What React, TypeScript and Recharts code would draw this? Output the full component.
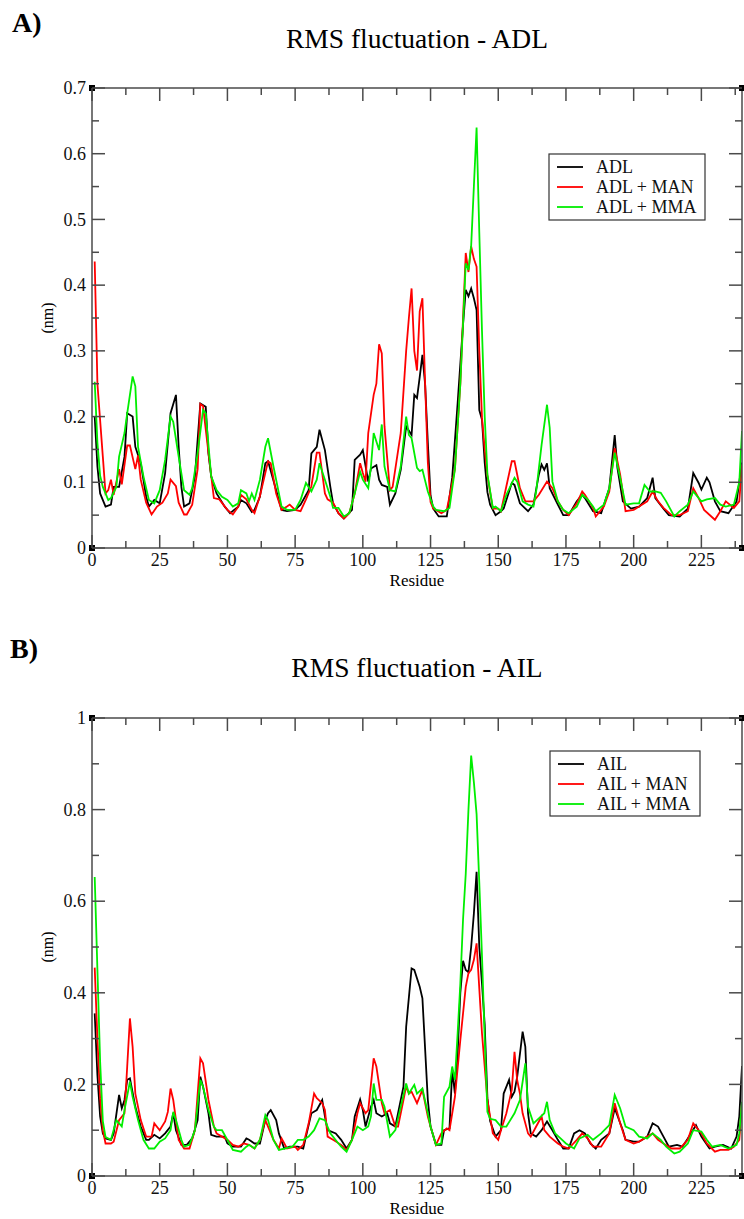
import React from 'react';
import { LineChart, Line, XAxis, YAxis, ReferenceDot } from 'recharts';

// ─── Data (residue, nm) ───────────────────────────────────────────────────────
const ADL: [number, number][] = [
  [1,0.2],[2,0.124],[3,0.083],[5,0.063],[7,0.066],[8,0.093],[10,0.093],[12,0.139],[13,0.205],[15,0.2],
  [16,0.154],[18,0.129],[20,0.078],[21,0.063],[23,0.073],[25,0.068],[27,0.114],[29,0.205],[31,0.233],[32,0.154],
  [33,0.093],[34,0.063],[36,0.068],[38,0.109],[40,0.22],[42,0.215],[43,0.144],[44,0.109],[46,0.083],[49,0.063],
  [51,0.053],[54,0.063],[55,0.073],[57,0.068],[59,0.055],[60,0.058],[62,0.078],[64,0.129],[65,0.132],[68,0.088],
  [70,0.058],[72,0.056],[75,0.058],[77,0.066],[80,0.088],[81,0.144],[83,0.154],[84,0.18],[86,0.149],[88,0.093],
  [89,0.068],[91,0.053],[93,0.045],[96,0.058],[97,0.134],[99,0.142],[100,0.149],[102,0.101],[103,0.121],[105,0.126],
  [106,0.104],[107,0.096],[109,0.093],[110,0.066],[112,0.083],[114,0.119],[116,0.185],[118,0.172],[119,0.233],[120,0.228],
  [121,0.26],[122,0.294],[123,0.249],[124,0.16],[125,0.08],[126,0.06],[128,0.048],[131,0.048],[133,0.107],[135,0.22],
  [137,0.34],[138,0.393],[139,0.383],[140,0.395],[141,0.38],[142,0.362],[143,0.21],[144,0.195],[145,0.13],[146,0.085],
  [147,0.066],[149,0.05],[151,0.056],[152,0.06],[155,0.099],[156,0.096],[158,0.068],[161,0.056],[163,0.066],[165,0.112],
  [166,0.127],[167,0.119],[168,0.129],[169,0.091],[172,0.066],[174,0.05],[176,0.05],[179,0.071],[181,0.081],[182,0.076],
  [185,0.056],[188,0.053],[191,0.091],[193,0.172],[194,0.122],[196,0.071],[199,0.06],[202,0.063],[205,0.076],[207,0.107],
  [208,0.076],[211,0.06],[213,0.05],[217,0.048],[220,0.06],[222,0.114],[224,0.099],[225,0.089],[227,0.107],[228,0.1],
  [230,0.071],[232,0.056],[235,0.053],[238,0.071],[240,0.13],
];
const ADL_MAN: [number, number][] = [
  [1,0.436],[2,0.25],[4,0.139],[5,0.083],[6,0.088],[7,0.104],[8,0.081],[10,0.12],[11,0.097],[13,0.156],
  [14,0.156],[16,0.12],[17,0.141],[18,0.104],[20,0.069],[22,0.051],[24,0.063],[26,0.069],[28,0.083],[29,0.104],
  [31,0.094],[32,0.069],[34,0.051],[35,0.051],[37,0.066],[39,0.12],[40,0.219],[41,0.216],[43,0.145],[45,0.076],
  [47,0.074],[50,0.058],[52,0.051],[54,0.063],[55,0.081],[57,0.074],[59,0.058],[60,0.053],[62,0.079],[65,0.132],
  [66,0.129],[68,0.083],[70,0.058],[72,0.063],[73,0.066],[75,0.058],[77,0.056],[79,0.074],[81,0.094],[83,0.145],
  [84,0.145],[86,0.083],[87,0.074],[89,0.069],[91,0.053],[93,0.045],[95,0.053],[97,0.083],[99,0.129],[100,0.114],
  [101,0.101],[102,0.175],[104,0.233],[105,0.25],[106,0.31],[107,0.296],[108,0.185],[110,0.088],[111,0.093],[114,0.175],
  [116,0.3],[117,0.35],[118,0.395],[119,0.3],[120,0.27],[121,0.36],[122,0.38],[123,0.25],[124,0.13],[125,0.07],
  [126,0.06],[127,0.058],[129,0.053],[131,0.058],[134,0.12],[136,0.25],[138,0.449],[139,0.42],[140,0.459],[141,0.44],
  [142,0.428],[143,0.3],[144,0.198],[145,0.15],[146,0.11],[148,0.06],[150,0.06],[151,0.056],[153,0.094],[155,0.132],
  [156,0.132],[158,0.091],[160,0.071],[163,0.071],[165,0.081],[168,0.101],[170,0.091],[172,0.071],[174,0.058],[176,0.05],
  [179,0.068],[181,0.086],[182,0.081],[185,0.061],[186,0.048],[189,0.063],[191,0.086],[193,0.152],[195,0.112],[197,0.056],
  [200,0.058],[202,0.063],[205,0.071],[207,0.086],[209,0.071],[211,0.061],[214,0.05],[217,0.05],[220,0.056],[222,0.091],
  [224,0.076],[226,0.058],[230,0.043],[232,0.056],[234,0.071],[237,0.061],[239,0.071],[240,0.127],
];
const ADL_MMA: [number, number][] = [
  [1,0.253],[2,0.16],[3,0.11],[4,0.093],[5,0.083],[6,0.073],[7,0.076],[9,0.093],[10,0.139],[12,0.175],
  [13,0.205],[15,0.261],[16,0.246],[17,0.154],[19,0.109],[21,0.073],[23,0.068],[25,0.088],[27,0.134],[29,0.2],
  [30,0.192],[32,0.139],[34,0.088],[36,0.081],[37,0.091],[39,0.144],[41,0.21],[42,0.205],[44,0.109],[46,0.088],
  [48,0.078],[50,0.073],[52,0.063],[54,0.068],[55,0.088],[57,0.083],[58,0.071],[59,0.083],[60,0.073],[62,0.104],
  [64,0.154],[65,0.167],[67,0.124],[70,0.063],[72,0.058],[75,0.058],[77,0.073],[79,0.099],[81,0.086],[83,0.104],
  [84,0.129],[86,0.104],[88,0.078],[89,0.061],[91,0.061],[93,0.048],[95,0.053],[97,0.083],[99,0.116],[100,0.104],
  [102,0.091],[103,0.124],[104,0.175],[106,0.149],[107,0.188],[108,0.124],[110,0.088],[112,0.086],[114,0.124],[116,0.2],
  [117,0.172],[118,0.167],[120,0.122],[121,0.117],[122,0.119],[124,0.086],[126,0.063],[127,0.058],[130,0.056],[132,0.061],
  [134,0.12],[136,0.25],[138,0.433],[139,0.423],[140,0.46],[141,0.55],[142,0.64],[143,0.48],[144,0.33],[145,0.2],
  [146,0.112],[148,0.061],[149,0.063],[151,0.056],[153,0.081],[156,0.107],[157,0.101],[159,0.071],[161,0.066],[163,0.063],
  [164,0.086],[166,0.157],[168,0.218],[169,0.183],[170,0.101],[172,0.071],[174,0.058],[176,0.053],[179,0.063],[181,0.081],
  [183,0.074],[185,0.063],[186,0.056],[189,0.066],[191,0.091],[193,0.145],[195,0.107],[197,0.066],[200,0.068],[202,0.068],
  [204,0.096],[206,0.086],[208,0.086],[210,0.084],[212,0.071],[215,0.048],[217,0.056],[220,0.066],[222,0.086],[225,0.071],
  [227,0.074],[230,0.076],[232,0.066],[234,0.063],[237,0.066],[239,0.1],[240,0.178],
];

const AIL: [number, number][] = [
  [1,0.355],[2,0.22],[3,0.13],[4,0.093],[5,0.082],[7,0.079],[8,0.093],[10,0.177],[11,0.148],[12,0.166],
  [13,0.21],[14,0.213],[16,0.151],[18,0.108],[20,0.079],[21,0.079],[23,0.09],[25,0.082],[27,0.093],[29,0.108],
  [30,0.137],[31,0.1],[33,0.068],[35,0.068],[37,0.082],[39,0.122],[40,0.217],[41,0.195],[43,0.137],[44,0.09],
  [46,0.086],[49,0.086],[50,0.071],[52,0.064],[55,0.064],[57,0.082],[58,0.079],[60,0.071],[62,0.071],[64,0.122],
  [65,0.137],[66,0.144],[68,0.122],[69,0.093],[71,0.06],[73,0.064],[76,0.064],[78,0.06],[79,0.086],[81,0.137],
  [83,0.144],[85,0.166],[86,0.13],[87,0.1],[90,0.093],[92,0.079],[94,0.06],[96,0.079],[97,0.13],[99,0.167],
  [100,0.144],[101,0.108],[103,0.151],[104,0.166],[105,0.137],[107,0.13],[109,0.137],[110,0.115],[112,0.108],[115,0.195],
  [116,0.326],[118,0.453],[119,0.45],[121,0.413],[122,0.388],[124,0.166],[125,0.108],[127,0.068],[129,0.068],[130,0.1],
  [132,0.104],[133,0.231],[134,0.18],[135,0.268],[136,0.4],[137,0.47],[138,0.45],[139,0.445],[140,0.5],[141,0.573],
  [142,0.664],[143,0.5],[144,0.42],[145,0.33],[146,0.17],[147,0.12],[149,0.086],[151,0.1],[152,0.18],[154,0.21],
  [155,0.173],[156,0.184],[157,0.217],[159,0.315],[160,0.282],[161,0.137],[162,0.093],[164,0.086],[166,0.1],[168,0.119],
  [170,0.1],[172,0.079],[174,0.06],[176,0.06],[178,0.093],[180,0.1],[182,0.093],[184,0.071],[186,0.06],[188,0.079],
  [191,0.093],[193,0.148],[196,0.1],[197,0.079],[200,0.075],[202,0.075],[205,0.086],[207,0.115],[209,0.108],[211,0.086],
  [213,0.064],[216,0.068],[218,0.064],[220,0.082],[223,0.111],[225,0.086],[228,0.06],[230,0.064],[233,0.068],[236,0.06],
  [238,0.086],[239,0.13],[240,0.24],
];
const AIL_MAN: [number, number][] = [
  [1,0.455],[2,0.3],[3,0.17],[4,0.1],[5,0.071],[7,0.071],[8,0.075],[10,0.122],[12,0.137],[13,0.239],
  [14,0.344],[15,0.282],[16,0.18],[18,0.122],[20,0.086],[22,0.086],[23,0.115],[25,0.1],[27,0.119],[28,0.14],
  [29,0.191],[30,0.166],[32,0.079],[34,0.06],[36,0.06],[38,0.1],[40,0.257],[41,0.246],[43,0.166],[45,0.108],
  [46,0.093],[48,0.086],[50,0.079],[52,0.068],[54,0.064],[56,0.071],[58,0.068],[60,0.06],[62,0.079],[64,0.122],
  [65,0.108],[67,0.079],[69,0.06],[70,0.082],[72,0.06],[75,0.064],[76,0.057],[78,0.068],[80,0.115],[82,0.18],
  [83,0.17],[85,0.159],[86,0.144],[87,0.086],[89,0.079],[92,0.068],[94,0.057],[96,0.079],[98,0.137],[99,0.159],
  [101,0.137],[102,0.144],[104,0.257],[105,0.239],[107,0.159],[108,0.137],[110,0.144],[112,0.108],[113,0.108],[115,0.166],
  [116,0.196],[117,0.18],[118,0.184],[120,0.159],[122,0.188],[124,0.13],[125,0.108],[127,0.068],[129,0.093],[131,0.104],
  [132,0.1],[134,0.173],[136,0.297],[138,0.413],[139,0.443],[140,0.45],[141,0.472],[142,0.508],[144,0.311],[146,0.166],
  [148,0.093],[150,0.079],[151,0.1],[153,0.137],[155,0.188],[156,0.271],[157,0.209],[158,0.18],[159,0.137],[161,0.093],
  [162,0.086],[164,0.108],[166,0.13],[167,0.1],[169,0.086],[172,0.071],[174,0.064],[176,0.06],[179,0.079],[181,0.093],
  [183,0.082],[185,0.064],[188,0.064],[191,0.093],[193,0.159],[195,0.115],[197,0.079],[200,0.071],[202,0.075],[205,0.086],
  [207,0.093],[209,0.079],[211,0.071],[214,0.06],[217,0.06],[220,0.079],[222,0.115],[225,0.093],[227,0.071],[230,0.053],
  [232,0.057],[235,0.057],[237,0.064],[239,0.079],[240,0.159],
];
const AIL_MMA: [number, number][] = [
  [1,0.653],[2,0.45],[3,0.25],[4,0.12],[5,0.085],[7,0.079],[9,0.122],[11,0.108],[12,0.144],[14,0.206],
  [15,0.173],[17,0.122],[19,0.079],[21,0.06],[23,0.06],[25,0.075],[27,0.082],[29,0.1],[30,0.14],[31,0.122],
  [33,0.079],[34,0.064],[36,0.068],[38,0.1],[40,0.21],[41,0.195],[43,0.144],[45,0.108],[46,0.1],[48,0.1],
  [50,0.079],[52,0.057],[55,0.053],[57,0.064],[58,0.068],[60,0.06],[62,0.079],[64,0.133],[65,0.122],[67,0.079],
  [69,0.057],[71,0.06],[74,0.064],[76,0.079],[78,0.079],[80,0.086],[82,0.1],[84,0.126],[86,0.122],[88,0.093],
  [91,0.071],[92,0.064],[94,0.053],[96,0.079],[98,0.108],[100,0.1],[102,0.108],[103,0.13],[104,0.202],[105,0.166],
  [107,0.166],[108,0.151],[110,0.086],[112,0.1],[114,0.151],[116,0.202],[117,0.18],[119,0.199],[120,0.18],[122,0.191],
  [124,0.137],[125,0.108],[127,0.068],[129,0.071],[130,0.173],[132,0.195],[133,0.239],[134,0.21],[135,0.311],[136,0.42],
  [137,0.56],[138,0.66],[139,0.8],[140,0.918],[141,0.86],[142,0.79],[143,0.64],[144,0.48],[145,0.3],[146,0.14],
  [147,0.125],[149,0.122],[151,0.108],[153,0.108],[156,0.137],[158,0.166],[160,0.246],[161,0.151],[163,0.115],[165,0.126],
  [167,0.137],[168,0.162],[169,0.122],[171,0.093],[173,0.082],[175,0.071],[178,0.06],[180,0.082],[183,0.09],[185,0.079],
  [188,0.093],[191,0.111],[193,0.177],[195,0.148],[197,0.108],[200,0.1],[202,0.086],[205,0.082],[207,0.093],[210,0.079],
  [212,0.064],[215,0.049],[217,0.053],[220,0.071],[222,0.1],[225,0.097],[227,0.079],[229,0.064],[232,0.068],[235,0.06],
  [238,0.068],[239,0.093],[240,0.162],
];

const X_TICKS = [0, 12.5, 25, 37.5, 50, 62.5, 75, 87.5, 100, 112.5, 125, 137.5, 150, 162.5, 175, 187.5, 200, 212.5, 225, 237.5];
const Y_TICKS_A = [0, 0.05, 0.1, 0.15, 0.2, 0.25, 0.3, 0.35, 0.4, 0.45, 0.5, 0.55, 0.6, 0.65, 0.7];
const Y_TICKS_B = [0, 0.1, 0.2, 0.3, 0.4, 0.5, 0.6, 0.7, 0.8, 0.9, 1];

const NAMES_A = ['ADL', 'ADL + MAN', 'ADL + MMA'];
const NAMES_B = ['AIL', 'AIL + MAN', 'AIL + MMA'];
const COLORS = ['#000000', '#ff0000', '#00ee00'];

const FONT = '"Liberation Serif", "Times New Roman", serif';
const FRAME = '#4a4a4a';

const toPts = (arr: [number, number][]) => arr.map(([r, v]) => ({ r, v }));

// ─── Inward ticks (xmgrace style) ─────────────────────────────────────────────
type Side = 'left' | 'right' | 'top' | 'bottom';
const makeTick = (side: Side, isMajor: (v: number) => boolean, fmt?: (v: number) => string) =>
  (props: any) => {
    const { x, y, payload } = props;
    const v = payload.value as number;
    const major = isMajor(v);
    const len = major ? 13 : 7;
    let x2 = x, y2 = y;
    if (side === 'left') x2 = x + len;
    if (side === 'right') x2 = x - len;
    if (side === 'top') y2 = y + len;
    if (side === 'bottom') y2 = y - len;
    return (
      <g>
        <line x1={x} y1={y} x2={x2} y2={y2} stroke={FRAME} strokeWidth={1.5} />
        {major && fmt && side === 'left' && (
          <text x={x - 6} y={y} dy="0.34em" textAnchor="end" fontFamily={FONT} fontSize={18} fill="#111">
            {fmt(v)}
          </text>
        )}
        {major && fmt && side === 'bottom' && (
          <text x={x} y={y + 18} textAnchor="middle" fontFamily={FONT} fontSize={18} fill="#111">
            {fmt(v)}
          </text>
        )}
      </g>
    );
  };

const majorX = (v: number) => v % 25 === 0;
const majorA = (v: number) => Math.abs(v * 10 - Math.round(v * 10)) < 1e-6;
const majorB = (v: number) => Math.abs(v * 5 - Math.round(v * 5)) < 1e-6;
const fmtNum = (v: number) => String(Math.round(v * 10) / 10);

const Corner = (p: any) => <rect x={p.cx - 3} y={p.cy - 3} width={6} height={6} fill="#000" />;

// ─── One RMSF panel ───────────────────────────────────────────────────────────
const Panel: React.FC<{
  top: number; height: number; bottomH: number; yMax: number;
  yTicks: number[]; isMajorY: (v: number) => boolean; series: [number, number][][];
}> = ({ top, height, bottomH, yMax, yTicks, isMajorY, series }) => (
  <div style={{ position: 'absolute', left: 0, top }}>
    <LineChart width={744} height={height} margin={{ top: 0, right: 0, bottom: 0, left: 0 }}>
      <XAxis
        dataKey="r" type="number" domain={[0, 240]} allowDataOverflow ticks={X_TICKS} interval={0}
        height={bottomH} tickSize={0} tickMargin={0} tickLine={false}
        axisLine={{ stroke: FRAME, strokeWidth: 1.5 }}
        tick={makeTick('bottom', majorX, (v) => String(v))}
      />
      <XAxis
        xAxisId="top" orientation="top" dataKey="r" type="number" domain={[0, 240]} allowDataOverflow
        ticks={X_TICKS} interval={0} height={88} tickSize={0} tickMargin={0} tickLine={false}
        axisLine={{ stroke: FRAME, strokeWidth: 1.5 }}
        tick={makeTick('top', majorX)}
      />
      <YAxis
        type="number" domain={[0, yMax]} allowDataOverflow ticks={yTicks} interval={0}
        width={92} tickSize={0} tickMargin={0} tickLine={false}
        axisLine={{ stroke: FRAME, strokeWidth: 1.5 }}
        tick={makeTick('left', isMajorY, fmtNum)}
      />
      <YAxis
        yAxisId="right" orientation="right" type="number" domain={[0, yMax]} allowDataOverflow
        ticks={yTicks} interval={0} width={2} tickSize={0} tickMargin={0} tickLine={false}
        axisLine={{ stroke: FRAME, strokeWidth: 1.5 }}
        tick={makeTick('right', isMajorY)}
      />
      {series.map((s, i) => (
        <Line
          key={i} data={toPts(s)} dataKey="v" type="linear" stroke={COLORS[i]}
          strokeWidth={1.8} dot={false} isAnimationActive={false}
        />
      ))}
      <ReferenceDot x={0} y={0} r={3} shape={Corner} />
      <ReferenceDot x={0} y={yMax} r={3} shape={Corner} />
      <ReferenceDot x={240} y={yMax} r={3} shape={Corner} />
      <ReferenceDot x={240} y={0} r={3} shape={Corner} />
    </LineChart>
  </div>
);

// ─── Legend box ───────────────────────────────────────────────────────────────
const LegendBox: React.FC<{ x: number; y: number; w: number; h: number; names: string[] }> = ({ x, y, w, h, names }) => (
  <g>
    <rect x={x} y={y} width={w} height={h} fill="#fff" stroke="#333" strokeWidth={1.2} />
    {names.map((n, i) => (
      <g key={n}>
        <line x1={x + 8} x2={x + 34} y1={y + 13 + i * 20} y2={y + 13 + i * 20} stroke={COLORS[i]} strokeWidth={1.8} />
        <text x={x + 47} y={y + 19 + i * 20} fontFamily={FONT} fontSize={18} fill="#111">{n}</text>
      </g>
    ))}
  </g>
);

export default function App() {
  return (
    <div style={{ position: 'absolute', left: 0, top: 0, width: 744, height: 1219, background: '#fff' }}>
      <Panel top={0} height={600} bottomH={52} yMax={0.7} yTicks={Y_TICKS_A} isMajorY={majorA}
        series={[ADL, ADL_MAN, ADL_MMA]} />
      <Panel top={630} height={589} bottomH={43} yMax={1} yTicks={Y_TICKS_B} isMajorY={majorB}
        series={[AIL, AIL_MAN, AIL_MMA]} />
      <svg width={744} height={1219} style={{ position: 'absolute', left: 0, top: 0, pointerEvents: 'none' }}>
        <text x={12} y={32} fontFamily={FONT} fontWeight="bold" fontSize={28}>A)</text>
        <text x={417} y={48} textAnchor="middle" fontFamily={FONT} fontSize={27.5}>RMS fluctuation - ADL</text>
        <text x={47} y={318} transform="rotate(-90 47 318)" textAnchor="middle" dominantBaseline="central"
          fontFamily={FONT} fontSize={16}>(nm)</text>
        <text x={417} y={586} textAnchor="middle" fontFamily={FONT} fontSize={17}>Residue</text>
        <LegendBox x={549} y={154} w={156} h={66} names={NAMES_A} />

        <text x={10} y={658} fontFamily={FONT} fontWeight="bold" fontSize={28}>B)</text>
        <text x={417} y={677} textAnchor="middle" fontFamily={FONT} fontSize={27.5}>RMS fluctuation - AIL</text>
        <text x={47} y={947} transform="rotate(-90 47 947)" textAnchor="middle" dominantBaseline="central"
          fontFamily={FONT} fontSize={16}>(nm)</text>
        <text x={417} y={1214} textAnchor="middle" fontFamily={FONT} fontSize={17}>Residue</text>
        <LegendBox x={550} y={751} w={150} h={65} names={NAMES_B} />
      </svg>
    </div>
  );
}
